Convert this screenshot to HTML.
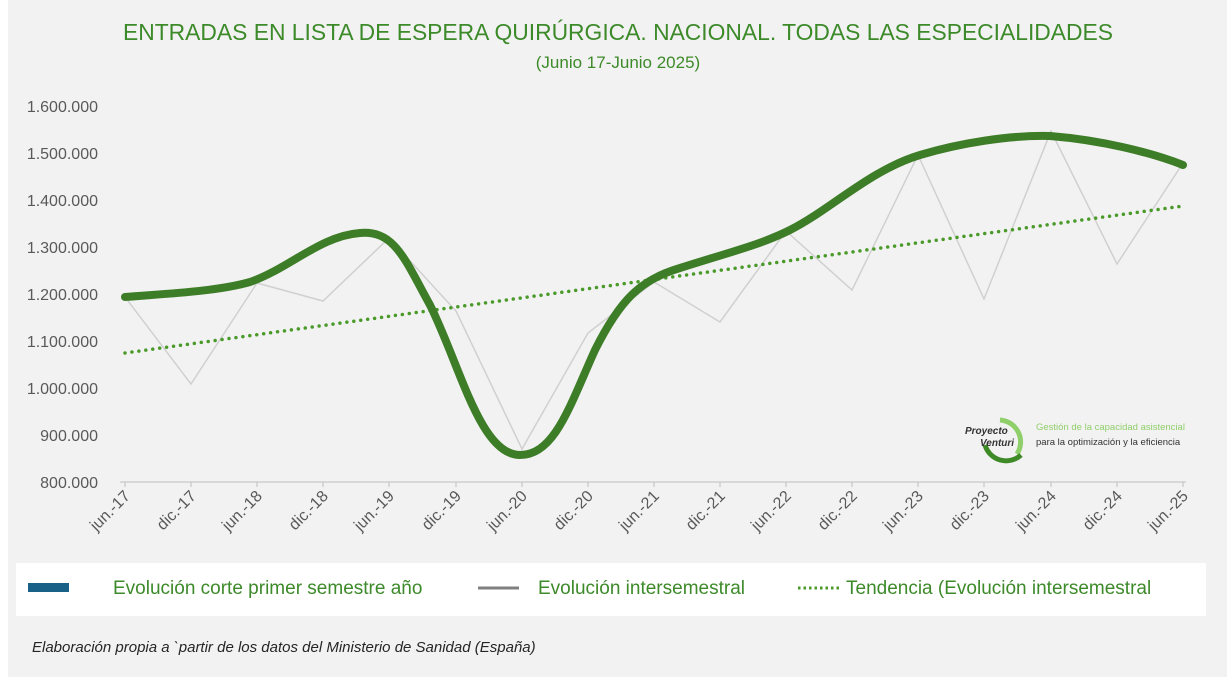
<!DOCTYPE html>
<html><head><meta charset="utf-8"><style>
body{margin:0;width:1227px;height:677px;background:#fff;overflow:hidden;font-family:"Liberation Sans",sans-serif}
</style></head><body>
<svg width="1227" height="677" xmlns="http://www.w3.org/2000/svg" style="position:absolute;left:0;top:0">
<rect x="8" y="0" width="1219" height="677" fill="#f2f2f2"/>
<text x="618" y="40" text-anchor="middle" font-size="23" fill="#3d8a2a" textLength="990" lengthAdjust="spacingAndGlyphs">ENTRADAS EN LISTA DE ESPERA QUIRÚRGICA. NACIONAL. TODAS LAS ESPECIALIDADES</text>
<text x="618" y="68" text-anchor="middle" font-size="17" fill="#3d8a2a">(Junio 17-Junio 2025)</text>
<g font-size="16" fill="#595959" text-anchor="end">
<text x="98" y="112">1.600.000</text><text x="98" y="159">1.500.000</text><text x="98" y="206">1.400.000</text><text x="98" y="253">1.300.000</text><text x="98" y="300">1.200.000</text><text x="98" y="347">1.100.000</text><text x="98" y="394">1.000.000</text><text x="98" y="441">900.000</text><text x="98" y="488">800.000</text>
</g>
<line x1="120" y1="482" x2="1186" y2="482" stroke="#bfbfbf"/>
<g stroke="#bfbfbf">
<line x1="125" y1="482" x2="125" y2="487"/><line x1="191" y1="482" x2="191" y2="487"/><line x1="257" y1="482" x2="257" y2="487"/><line x1="323" y1="482" x2="323" y2="487"/><line x1="389" y1="482" x2="389" y2="487"/><line x1="456" y1="482" x2="456" y2="487"/><line x1="522" y1="482" x2="522" y2="487"/><line x1="588" y1="482" x2="588" y2="487"/><line x1="654" y1="482" x2="654" y2="487"/><line x1="720" y1="482" x2="720" y2="487"/><line x1="786" y1="482" x2="786" y2="487"/><line x1="852" y1="482" x2="852" y2="487"/><line x1="918" y1="482" x2="918" y2="487"/><line x1="984" y1="482" x2="984" y2="487"/><line x1="1051" y1="482" x2="1051" y2="487"/><line x1="1117" y1="482" x2="1117" y2="487"/><line x1="1183" y1="482" x2="1183" y2="487"/>
</g>
<g font-size="16" fill="#595959" text-anchor="end">
<text transform="translate(131,497) rotate(-45)">jun.-17</text>
<text transform="translate(197,497) rotate(-45)">dic.-17</text>
<text transform="translate(263,497) rotate(-45)">jun.-18</text>
<text transform="translate(329,497) rotate(-45)">dic.-18</text>
<text transform="translate(395,497) rotate(-45)">jun.-19</text>
<text transform="translate(462,497) rotate(-45)">dic.-19</text>
<text transform="translate(528,497) rotate(-45)">jun.-20</text>
<text transform="translate(594,497) rotate(-45)">dic.-20</text>
<text transform="translate(660,497) rotate(-45)">jun.-21</text>
<text transform="translate(726,497) rotate(-45)">dic.-21</text>
<text transform="translate(792,497) rotate(-45)">jun.-22</text>
<text transform="translate(858,497) rotate(-45)">dic.-22</text>
<text transform="translate(924,497) rotate(-45)">jun.-23</text>
<text transform="translate(990,497) rotate(-45)">dic.-23</text>
<text transform="translate(1057,497) rotate(-45)">jun.-24</text>
<text transform="translate(1123,497) rotate(-45)">dic.-24</text>
<text transform="translate(1189,497) rotate(-45)">jun.-25</text>
</g>
<polyline fill="none" stroke="#d0d0d0" stroke-width="1.5" points="125,297 191,384 257,283 323,301 389,238 456,311 522,449 588,333 654,282 720,322 786,231 852,290 918,155 984,299 1051,131 1117,264 1183,163"/>
<line x1="125" y1="353" x2="1183" y2="206" stroke="#4a9a2a" stroke-width="3.5" stroke-dasharray="0,7" stroke-linecap="round"/>
<path fill="none" stroke="#3e7d27" stroke-width="8" stroke-linecap="round" stroke-linejoin="round" d="M125,297 C160,294 215,292 250,282 C290,268 320,236 360,233 C395,230 405,260 430,305 C460,365 480,455 520,455 C555,455 570,405 595,350 C620,300 640,280 680,268 C730,252 760,245 790,230 C830,210 870,170 920,155 C960,143 1010,135 1050,136 C1100,140 1150,152 1183,165"/>
<g>
<path d="M1000,420 a22,22 0 0 1 17,34" fill="none" stroke="#8fcf6a" stroke-width="5"/>
<path d="M985,445 a22,22 0 0 0 36,10" fill="none" stroke="#3e8a27" stroke-width="5"/>
<text x="965" y="434" font-size="10" font-style="italic" font-weight="bold" fill="#333">Proyecto</text>
<text x="980" y="446" font-size="10" font-style="italic" font-weight="bold" fill="#333">Venturi</text>
<text x="1036" y="430" font-size="9.5" fill="#8fcf6a">Gestión de la capacidad asistencial</text>
<text x="1036" y="445" font-size="9.5" fill="#333">para la optimización y la eficiencia</text>
</g>
<rect x="16" y="563" width="1190" height="53" fill="#fff"/>
<rect x="28" y="583" width="41" height="9" fill="#1a6187"/>
<text x="113" y="594" font-size="19" fill="#3d8a2a">Evolución corte primer semestre año</text>
<line x1="478" y1="588" x2="519" y2="588" stroke="#808080" stroke-width="3"/>
<text x="538" y="594" font-size="19" fill="#3d8a2a">Evolución intersemestral</text>
<line x1="798" y1="588" x2="840" y2="588" stroke="#4a9a2a" stroke-width="3" stroke-dasharray="2.5,3"/>
<text x="846" y="594" font-size="19" fill="#3d8a2a">Tendencia (Evolución intersemestral</text>
<text x="32" y="652" font-size="15" font-style="italic" fill="#262626">Elaboración propia a `partir de los datos del Ministerio de Sanidad (España)</text>
</svg>
</body></html>
